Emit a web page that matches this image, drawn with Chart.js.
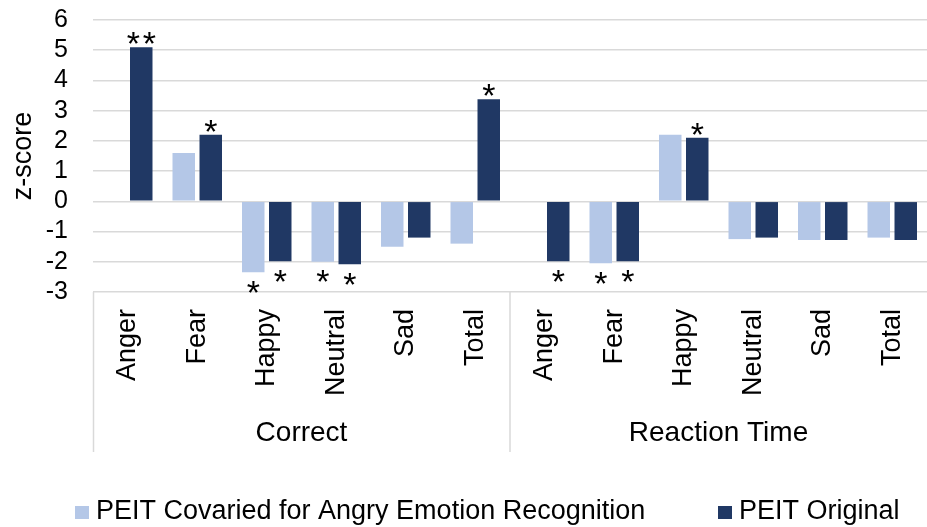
<!DOCTYPE html>
<html>
<head>
<meta charset="utf-8">
<script src="https://cdn.jsdelivr.net/npm/chart.js@4"></script>
<style>
html,body{margin:0;padding:0;background:#fff;}
#wrap{width:927px;height:527px;position:relative;}
</style>
</head>
<body>
<div id="wrap"><canvas id="c" width="927" height="527"></canvas></div>
<script>
// ---- data ----
const categories = ['Anger', 'Fear', 'Happy', 'Neutral', 'Sad', 'Total',
                    'Anger', 'Fear', 'Happy', 'Neutral', 'Sad', 'Total'];
const groups = ['Correct', 'Reaction Time'];
const seriesNames = ['PEIT Covaried for Angry Emotion Recognition', 'PEIT Original'];
const covaried = [null, 1.6, -2.35, -2.0, -1.5, -1.4, null, -2.05, 2.2, -1.25, -1.28, -1.2];
const original = [5.1, 2.2, -1.98, -2.08, -1.2, 3.38, -1.98, -1.98, 2.1, -1.2, -1.28, -1.28];
const sigCovaried = ['', '', '*', '*', '', '', '', '*', '', '', '', ''];
const sigOriginal = ['**', '*', '*', '*', '', '*', '*', '*', '*', '', '', ''];
const yMin = -3, yMax = 6, yStep = 1;
const yTitle = 'z-score';

// ---- style ----
const FONT = "'Liberation Sans', Arial, sans-serif";
const LIGHT = '#B4C7E7';
const DARK = '#203864';
const GRID = '#D9D9D9';
const STAR_SIZE = 34;
const CLEAR = 'rgba(0,0,0,0)';

Chart.defaults.font.family = FONT;
Chart.defaults.color = '#000';

const sigPlugin = {
  id: 'sigMarks',
  afterDatasetsDraw(chart) {
    const ctx = chart.ctx;
    const marks = [sigCovaried, sigOriginal];
    const c = 0.52 * STAR_SIZE;      // glyph centre above baseline
    const spacing = 16;              // distance between repeated stars
    ctx.save();
    ctx.font = STAR_SIZE + 'px ' + FONT;
    ctx.fillStyle = '#000';
    ctx.textAlign = 'center';
    ctx.textBaseline = 'alphabetic';
    chart.data.datasets.forEach((ds, i) => {
      const meta = chart.getDatasetMeta(i);
      meta.data.forEach((bar, j) => {
        const m = marks[i][j];
        const v = ds.data[j];
        if (!m || v === null) return;
        const yc = v >= 0 ? bar.y - 10 : bar.y + 14;
        const n = m.length;
        for (let k = 0; k < n; k++) {
          const xc = bar.x + (k - (n - 1) / 2) * spacing;
          ctx.fillText(m[k], xc, yc + c);
        }
      });
    });
    ctx.restore();
  }
};

const dividerPlugin = {
  id: 'groupDividers',
  afterDraw(chart) {
    const xs = chart.scales.x;
    const ctx = chart.ctx;
    const top = chart.chartArea.bottom;
    const bottom = 452;
    const mid = (xs.getPixelForValue(5) + xs.getPixelForValue(6)) / 2;
    ctx.save();
    ctx.strokeStyle = GRID;
    ctx.lineWidth = 1.5;
    [xs.left + 0.5, mid].forEach(x => {
      ctx.beginPath();
      ctx.moveTo(x, top);
      ctx.lineTo(x, bottom);
      ctx.stroke();
    });
    ctx.restore();
  }
};

const legendPlugin = {
  id: 'spacedLegend',
  afterDraw(chart) {
    const ctx = chart.ctx;
    const boxX = [75, 718];
    const yMid = 512;
    ctx.save();
    ctx.font = '27px ' + FONT;
    ctx.textAlign = 'left';
    ctx.textBaseline = 'middle';
    chart.data.datasets.forEach((ds, i) => {
      ctx.fillStyle = ds.backgroundColor;
      ctx.fillRect(boxX[i], yMid - 6, 14, 13);
      ctx.fillStyle = '#000';
      ctx.fillText(ds.label, boxX[i] + 21, yMid);
    });
    ctx.restore();
  }
};

new Chart(document.getElementById('c'), {
  type: 'bar',
  data: {
    labels: categories,
    datasets: [
      { label: seriesNames[0], data: covaried, backgroundColor: LIGHT, borderWidth: 0,
        categoryPercentage: 0.777, barPercentage: 0.833 },
      { label: seriesNames[1], data: original, backgroundColor: DARK, borderWidth: 0,
        categoryPercentage: 0.777, barPercentage: 0.833 }
    ]
  },
  options: {
    responsive: false,
    animation: false,
    devicePixelRatio: 1,
    layout: { padding: { top: 20, right: 0, bottom: 67, left: 0 } },
    plugins: {
      legend: { display: false },
      tooltip: { enabled: false }
    },
    scales: {
      x: {
        type: 'category',
        offset: true,
        weight: 0,
        grid: { display: true, drawOnChartArea: false, drawTicks: true, tickLength: 17, tickColor: CLEAR, color: CLEAR },
        border: { display: false },
        ticks: { minRotation: 90, maxRotation: 90, autoSkip: false, font: { size: 27 }, padding: 0, color: '#000' },
        afterFit: s => { s.height = 115; }
      },
      x2: {
        type: 'category',
        axis: 'x',
        position: 'bottom',
        labels: groups,
        offset: true,
        weight: 1,
        grid: { display: false, drawTicks: false },
        border: { display: false },
        ticks: { font: { size: 28 }, padding: 9, color: '#000', maxRotation: 0, autoSkip: false },
        afterFit: s => { s.height = 53; }
      },
      y: {
        min: yMin,
        max: yMax,
        ticks: { stepSize: yStep, autoSkip: false, font: { size: 25 }, padding: 4, color: '#000' },
        grid: { color: GRID, lineWidth: 1.5, drawTicks: true, tickLength: 21, tickColor: CLEAR },
        border: { display: false },
        title: { display: true, text: yTitle, font: { size: 27 }, color: '#000', padding: { top: 7, bottom: 0 } },
        afterFit: s => { s.width = 93; }
      }
    }
  },
  plugins: [sigPlugin, dividerPlugin, legendPlugin]
});
</script>
</body>
</html>
